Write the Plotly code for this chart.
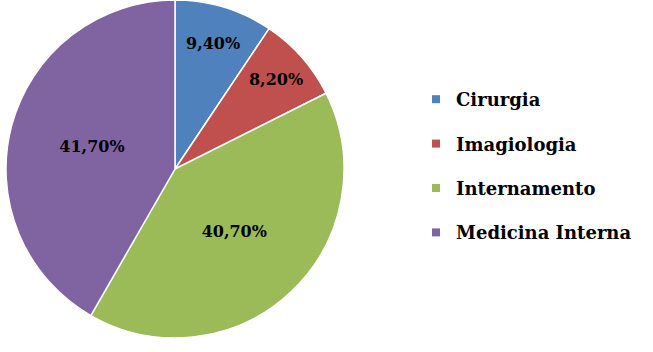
import plotly.graph_objects as go

categories = ["Cirurgia", "Imagiologia", "Internamento", "Medicina Interna"]
values = [9.4, 8.2, 40.7, 41.7]
colors = ["#4F81BD", "#C0504D", "#9BBB59", "#8064A2"]

W, H = 653, 352
SERIF = "DejaVu Serif"

fig = go.Figure(go.Pie(
    labels=categories,
    values=values,
    sort=False,
    direction="clockwise",
    rotation=0,
    marker=dict(colors=colors, line=dict(color="white", width=1.5)),
    texttemplate="<b>%{value:.2f}%</b>",
    textposition="inside",
    insidetextorientation="horizontal",
    textfont=dict(family=SERIF, size=16, color="black"),
    domain=dict(x=[6 / W, 344 / W], y=[1 - 338 / H, 1]),
    hoverinfo="label+percent",
    showlegend=False,
))

for cat, col in zip(categories, colors):
    fig.add_trace(go.Scatter(
        x=[None], y=[None], mode="markers", name=f"<b>{cat}</b>",
        legendgroup=cat, showlegend=True,
        marker=dict(symbol="square", size=8, color=col),
    ))

fig.update_layout(
    width=W, height=H,
    margin=dict(l=0, r=0, t=0, b=0),
    paper_bgcolor="white",
    plot_bgcolor="white",
    separators=",.",
    showlegend=True,
    xaxis=dict(visible=False),
    yaxis=dict(visible=False),
    legend=dict(
        x=416 / W, y=1 - 166 / H, xanchor="left", yanchor="middle",
        font=dict(family=SERIF, size=18, color="black"),
        bgcolor="rgba(0,0,0,0)",
        tracegroupgap=18,
        traceorder="grouped",
    ),
)

fig.write_html("out.html")
